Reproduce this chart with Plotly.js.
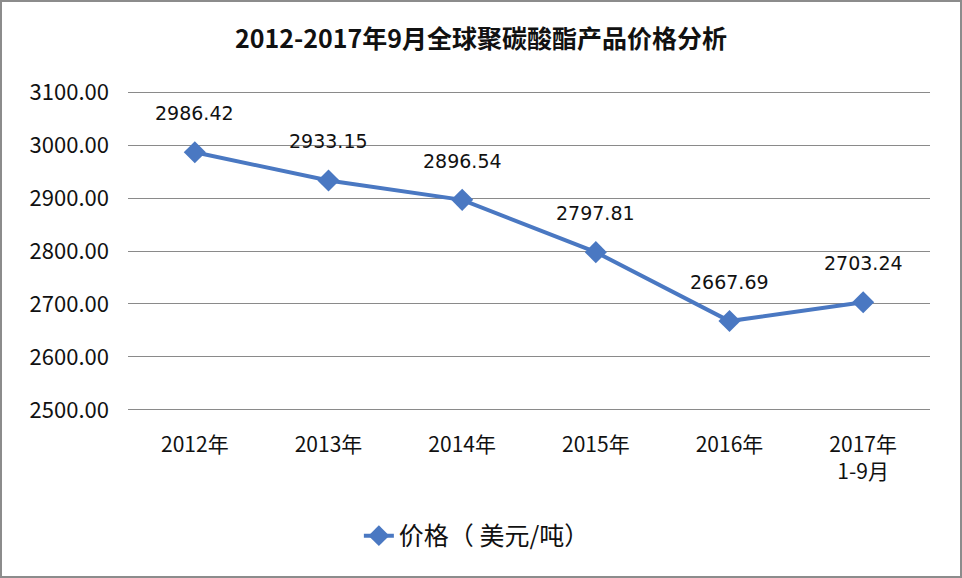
<!DOCTYPE html>
<html>
<head>
<meta charset="utf-8">
<script src="https://cdn.plot.ly/plotly-3.0.1.min.js"></script>
<style>
html,body{margin:0;padding:0;background:#fff;}
#chart{width:962px;height:578px;box-sizing:border-box;border:2px solid #8c8c8c;}
</style>
</head>
<body>
<div id="chart"></div>
<script>
var categories = ["2012年", "2013年", "2014年", "2015年", "2016年", "2017年<br>1-9月"];
var prices = [2986.42, 2933.15, 2896.54, 2797.81, 2667.69, 2703.24];
var priceLabels = ["2986.42", "2933.15", "2896.54", "2797.81", "2667.69", "2703.24"];
var yTicks = [2500, 2600, 2700, 2800, 2900, 3000, 3100];
var yTickText = ["2500.00", "2600.00", "2700.00", "2800.00", "2900.00", "3000.00", "3100.00"];
var seriesName = "价格（ 美元/吨）";
var chartTitle = "2012-2017年9月全球聚碳酸酯产品价格分析";

var blue = "#4a78c2";
var fontFam = "'Noto Sans CJK SC', 'Noto Sans', sans-serif";
var labelFam = "'DejaVu Sans', 'Noto Sans', sans-serif";

var trace = {
  x: categories,
  y: prices,
  type: "scatter",
  mode: "lines+markers",
  name: seriesName,
  line: {color: blue, width: 4},
  marker: {symbol: "diamond", size: 17, color: blue},
  showlegend: true
};

var annotations = categories.map(function(c, i) {
  return {
    x: c, y: prices[i], xref: "x", yref: "y",
    text: priceLabels[i], showarrow: false,
    yshift: 39, font: {family: labelFam, size: 19, color: "#111"}
  };
});

var layout = {
  width: 958, height: 574,
  margin: {l: 126, r: 30, t: 88, b: 164},
  paper_bgcolor: "#fff",
  plot_bgcolor: "#fff",
  title: {
    text: "<b>" + chartTitle + "</b>",
    font: {family: fontFam, size: 25, color: "#111"},
    x: 0.5, xanchor: "center",
    y: 1 - 37/574, yref: "container", yanchor: "middle"
  },
  xaxis: {
    type: "category",
    range: [-0.5, 5.5],
    showgrid: false, zeroline: false, showline: false,
    ticks: "",
    ticklabelstandoff: 18,
    tickfont: {family: fontFam, size: 21, color: "#111"},
    fixedrange: true
  },
  yaxis: {
    range: [2496, 3104],
    tickvals: yTicks, ticktext: yTickText,
    showgrid: true, gridcolor: "#8a8a8a", gridwidth: 1,
    zeroline: false, showline: false, ticks: "",
    ticklabelstandoff: 18,
    tickfont: {family: fontFam, size: 22, color: "#111"},
    fixedrange: true
  },
  legend: {
    orientation: "h",
    x: 0.435, xanchor: "center",
    y: -0.385, yanchor: "middle",
    font: {family: fontFam, size: 25, color: "#111"}
  },
  annotations: annotations,
  showlegend: true
};

Plotly.newPlot("chart", [trace], layout, {displayModeBar: false, staticPlot: true});
</script>
</body>
</html>
